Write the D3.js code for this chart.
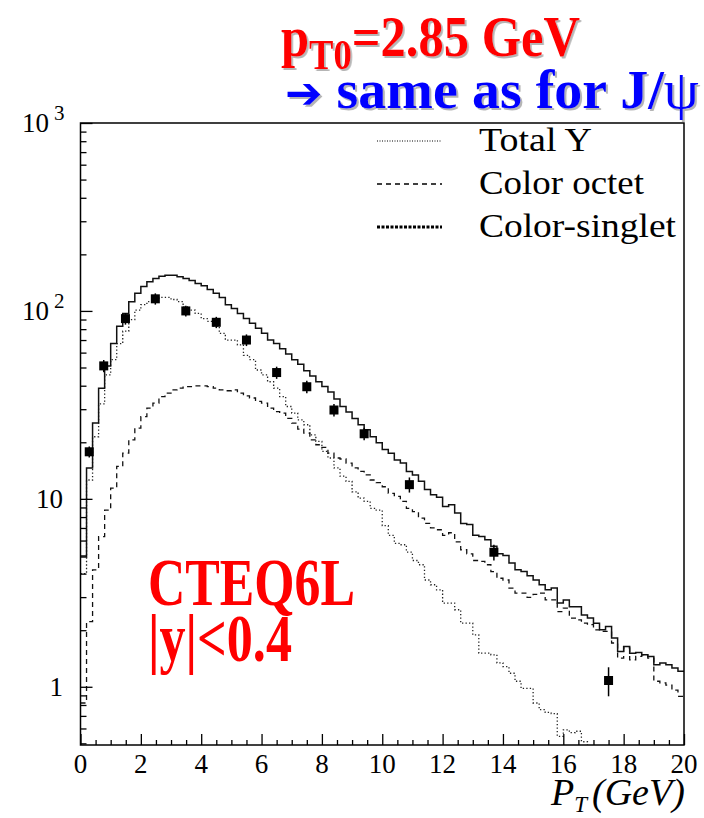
<html>
<head>
<meta charset="utf-8">
<title>Upsilon pT spectrum</title>
<script src="https://d3js.org/d3.v7.min.js"></script>
<style>
body { margin: 0; background: white; }
text { font-family: "Liberation Serif", "Times New Roman", serif; }
</style>
</head>
<body>
<svg width="704" height="818"></svg>
<script>
// histogram bins are 0.2 GeV wide, starting at pT = 0
var binWidth = 0.2;

var totalY = [4.9,14.6,25.3,38.8,51,67,83,97,112,124,
  135,143,149,153,155,155,152,149,145,140,
  136,130,124,118,108,103,97,91,86,81,
  76,70,67,63,59,55,52,48,45,42,
  39.6,37,34,31,29,26.8,24.8,23.3,21.4,19.9,
  18.3,17.5,16.1,15.5,14.0,13.4,12.4,11.2,10.5,10.2,
  9.1,9.3,8.4,7.4,7.3,6.4,6.3,6.05,5.6,5.1,
  5.0,4.55,4.2,4.1,3.9,3.7,3.49,3.28,3.35,2.79,
  2.9,2.67,2.67,2.41,2.32,2.18,2.01,2.09,1.82,1.54,
  1.64,1.51,1.52,1.48,1.45,1.31,1.34,1.31,1.26,1.21];

var octet = [0.82,2.22,4.19,6.3,8.7,11.4,14.9,17.5,20.6,23.8,
  27.4,30.4,32.3,35,36.5,38,38.8,39.6,39.6,39.9,
  39.9,39.6,38.8,38,37.6,38,36.5,35.3,34.4,33,
  32.3,30.4,29.1,28.6,26.8,25.3,23.5,22.4,20.6,19.4,
  18.8,17.5,16.5,16.3,15.5,14.6,14.0,13.4,12.6,12.2,
  11.6,10.7,10.3,9.7,8.9,8.55,7.9,7.4,7.0,6.85,
  6.4,6.6,5.9,5.36,5.1,4.7,4.65,4.46,4.1,3.78,
  3.7,3.35,3.15,3.15,2.99,3.1,3.15,2.9,2.9,2.51,
  2.62,2.32,2.27,2.18,2.14,2.01,1.97,1.97,1.71,1.42,
  1.61,1.39,1.45,1.48,1.42,1.07,1.05,1.02,0.96,0.89];

var singlet = [4.0,12.6,21.4,32,45.7,55,67,78,90,101,
  108,112,117,118,118,115,112,105,101,97,
  91,88,83,76,70,70,66,58,55,48.5,
  45.7,42,38.8,35,31,28.6,26.3,24.8,21.9,20.2,
  17.9,16.5,14.6,13.2,12.4,10.9,10.1,9.7,8.9,8.7,
  7.2,6.4,5.8,5.7,5.2,4.7,4.46,3.7,3.49,3.28,
  2.79,2.79,2.57,2.18,2.18,1.89,1.51,1.51,1.48,1.34,
  1.28,1.18,1.07,0.98,0.98,0.82,0.755,0.73,0.72,0.545,
  0.59,0.57,0.58,0.51,0.45,0.4];

// measured points
var dataPt  = [0.29,0.77,1.49,2.48,3.49,4.5,5.5,6.5,7.5,8.4,9.4,10.9,13.7,17.5];
var dataVal = [17.8,51,91,116,100,87,70,47,39.5,29.7,22.2,11.9,5.2,1.08];
var dataErr = [1.2,3.8,6.5,8,6.5,6,5,3.5,3,2.3,1.7,1.1,0.5,0.19];

var xTicks = [0,2,4,6,8,10,12,14,16,18,20];
var yMajor = [1,10,100,1000];
var yLabels = [["1",""],["10",""],["10","2"],["10","3"]];
var legendNames = ["Total Y","Color octet","Color-singlet"];

var svg = d3.select("svg");
svg.append("rect").attr("width",704).attr("height",818).attr("fill","white");

var x = d3.scaleLinear().domain([0,20]).range([80.5,684]);
var y = d3.scaleLog().domain([0.49,1000]).range([745,123]);

var defs = svg.append("defs");
defs.append("clipPath").attr("id","plotclip")
  .append("rect").attr("x",80.5).attr("y",123).attr("width",603.5).attr("height",622);
defs.append("filter").attr("id","shadow").attr("x","-5%").attr("y","-10%").attr("width","115%").attr("height","130%")
  .append("feDropShadow").attr("dx",2).attr("dy",2).attr("stdDeviation",0.6)
  .attr("flood-color","#777").attr("flood-opacity",0.55);

function stepPoints(vals) {
  var pts = vals.map(function(v,i){ return [i*binWidth, v]; });
  pts.push([vals.length*binWidth, vals[vals.length-1]]);
  return pts;
}
var line = d3.line()
  .x(function(d){ return x(d[0]); })
  .y(function(d){ return y(d[1]); })
  .curve(d3.curveStepAfter);

var plot = svg.append("g").attr("clip-path","url(#plotclip)");

plot.append("path").attr("d", line(stepPoints(singlet)))
  .attr("fill","none").attr("stroke","#222").attr("stroke-width",1.3)
  .attr("stroke-dasharray","1.3,2.2");
plot.append("path").attr("d", line(stepPoints(octet)))
  .attr("fill","none").attr("stroke","#111").attr("stroke-width",1.3)
  .attr("stroke-dasharray","5,4");
plot.append("path").attr("d", line(stepPoints(totalY)))
  .attr("fill","none").attr("stroke","#111").attr("stroke-width",1.5);

// data points with error bars
var pts = svg.append("g");
pts.selectAll("line").data(dataPt).enter().append("line")
  .attr("x1",function(d){ return x(d); })
  .attr("x2",function(d){ return x(d); })
  .attr("y1",function(d,i){ return y(dataVal[i]+dataErr[i]); })
  .attr("y2",function(d,i){ return y(dataVal[i]-dataErr[i]); })
  .attr("stroke","black").attr("stroke-width",1.5);
pts.selectAll("rect").data(dataPt).enter().append("rect")
  .attr("x",function(d){ return x(d)-4.5; })
  .attr("y",function(d,i){ return y(dataVal[i])-4.5; })
  .attr("width",9).attr("height",9).attr("fill","black");

// frame
svg.append("rect").attr("x",80.5).attr("y",123).attr("width",603.5).attr("height",622)
  .attr("fill","none").attr("stroke","black").attr("stroke-width",1.5);

// y ticks (inside)
var yMinor = [];
[0.1,1,10,100].forEach(function(dec){
  for (var k=2;k<=9;k++) { var v=k*dec; if (v>=0.49 && v<1000) yMinor.push(v); }
});
svg.append("g").attr("transform","translate(80.5,0)")
  .call(d3.axisRight(y).tickValues(yMajor).tickSize(12).tickFormat(""))
  .call(function(g){ g.select(".domain").remove(); g.selectAll("line").attr("stroke-width",1.3); });
svg.append("g").attr("transform","translate(80.5,0)")
  .call(d3.axisRight(y).tickValues(yMinor).tickSize(6).tickFormat(""))
  .call(function(g){ g.select(".domain").remove(); g.selectAll("line").attr("stroke-width",1.3); });

// x ticks (inside)
svg.append("g").attr("transform","translate(0,745)")
  .call(d3.axisTop(x).tickValues(xTicks).tickSize(11).tickFormat(""))
  .call(function(g){ g.select(".domain").remove(); g.selectAll("line").attr("stroke-width",1.3); });
svg.append("g").attr("transform","translate(0,745)")
  .call(d3.axisTop(x).tickValues(d3.range(0.5,20,0.5).filter(function(v){ return v%2!==0; })).tickSize(5).tickFormat(""))
  .call(function(g){ g.select(".domain").remove(); g.selectAll("line").attr("stroke-width",1.3); });

// x labels
svg.append("g").selectAll("text").data(xTicks).enter().append("text")
  .attr("x",function(d){ return x(d); }).attr("y",773)
  .attr("text-anchor","middle").attr("font-size",27)
  .text(function(d){ return d; });

// y labels
yMajor.forEach(function(v,i){
  var lab = yLabels[i];
  if (lab[1] === "") {
    svg.append("text").attr("x",63).attr("y",y(v)+9).attr("text-anchor","end")
      .attr("font-size",27).text(lab[0]);
  } else {
    var t = svg.append("text").attr("x",22).attr("y",y(v)+9).attr("font-size",27);
    t.append("tspan").text(lab[0]);
    t.append("tspan").attr("dx",5).attr("dy",-12).attr("font-size",21).text(lab[1]);
  }
});

// x title
var xt = svg.append("text").attr("x",551).attr("y",805).attr("font-size",38).attr("font-style","italic");
xt.append("tspan").text("P");
xt.append("tspan").attr("font-size",23).attr("dy",7).text("T");
xt.append("tspan").attr("dy",-7).attr("dx",5).text("(GeV)");

function fit(t, x0, y0, w) {
  var n = t.node().getComputedTextLength();
  t.attr("transform","translate("+x0+","+y0+") scale("+(w/n)+",1)");
}

// legend
var sty = [{dash:"1,1.5",w:1},{dash:"5,4",w:1.3},{dash:"3,1.5",w:3}];
legendNames.forEach(function(name,i){
  var yy = 141 + i*43;
  svg.append("line").attr("x1",377).attr("x2",442).attr("y1",yy).attr("y2",yy)
    .attr("stroke","black").attr("stroke-width",sty[i].w).attr("stroke-dasharray",sty[i].dash);
  var t = svg.append("text").attr("font-size",33).text(name);
  fit(t, 479, yy+10, [113,165,197][i]);
});

// big annotations
function bigText(x0, y0, w, size, color, build, shadow) {
  var t = svg.append("text").attr("font-size",size).attr("font-weight","bold").attr("fill",color);
  if (shadow) t.attr("filter","url(#shadow)");
  build(t);
  fit(t, x0, y0, w);
}

bigText(281, 56, 299, 58, "#ff0000", function(t){
  t.append("tspan").text("p");
  t.append("tspan").attr("font-size",42).attr("dy",13).text("T0");
  t.append("tspan").attr("dy",-13).text("=2.85 GeV");
}, true);
bigText(285, 108, 414, 55, "#0000ff", function(t){
  t.append("tspan").attr("font-family","DejaVu Sans").attr("font-size",44).text("\u2794");
  t.append("tspan").text(" same as for J/");
  t.append("tspan").attr("font-weight","normal").text("\u03c8");
}, true);
bigText(148, 605, 207, 68, "#ff0000", function(t){ t.text("CTEQ6L"); }, false);
bigText(148, 661, 144, 68, "#ff0000", function(t){ t.text("|y|<0.4"); }, false);
</script>
</body>
</html>
